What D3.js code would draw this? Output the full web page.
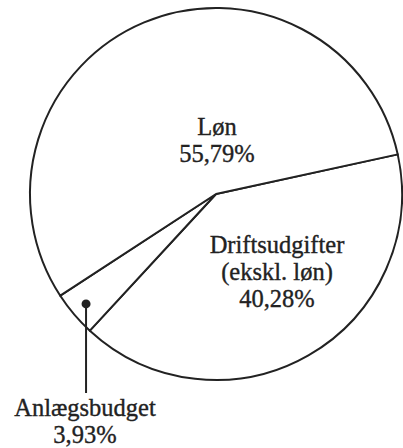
<!DOCTYPE html>
<html>
<head>
<meta charset="utf-8">
<script src="https://cdn.jsdelivr.net/npm/d3@7"></script>
<style>
  body { margin: 0; background: #fff; }
  text { font-family: "Liberation Serif", "Times New Roman", serif; fill: #222; stroke: #222; stroke-width: 0.35px; }
</style>
</head>
<body>
<div id="chart"></div>
<script>
var categories = ["Driftsudgifter", "Anlægsbudget", "Løn"];
var values = [40.28, 3.93, 55.79];
var labelLines = [["Driftsudgifter", "(ekskl. løn)", "40,28%"], ["Anlægsbudget", "3,93%"], ["Løn", "55,79%"]];

function init() {
    var w = 403;
    var h = 448;
    var cx = 216, cy = 194;
    var r = 186;
    var start = 77.7 * Math.PI / 180;

    var svg = d3.select("#chart")
        .append("svg")
        .attr("width", w)
        .attr("height", h);

    var g = svg.append("g")
        .attr("transform", "translate(" + cx + "," + cy + ")");

    var pie = d3.pie()
        .sort(null)
        .startAngle(start)
        .endAngle(start + 2 * Math.PI);

    var arcs = pie(values);

    var arc = d3.arc().innerRadius(0).outerRadius(r);

    g.selectAll("path")
        .data(arcs)
        .enter()
        .append("path")
        .attr("d", arc)
        .attr("fill", "#fff")
        .attr("stroke", "#222")
        .attr("stroke-width", 2)
        .attr("stroke-linejoin", "round");

    // dot + leader for the small slice
    var dotArc = d3.arc().innerRadius(r * 0.915).outerRadius(r * 0.915);
    var dot = dotArc.centroid(arcs[1]);
    g.append("line")
        .attr("x1", dot[0]).attr("y1", dot[1])
        .attr("x2", dot[0]).attr("y2", 393 - cy)
        .attr("stroke", "#222")
        .attr("stroke-width", 2);
    g.append("circle")
        .attr("cx", dot[0]).attr("cy", dot[1])
        .attr("r", 4.5)
        .attr("fill", "#222");

    // label positions (centre x, first baseline)
    var labelPos = [[277, 253], [85, 416], [217, 135]];
    var lineH = 27;

    labelLines.forEach(function(lines, i) {
        var t = svg.append("text")
            .attr("text-anchor", "middle")
            .attr("font-size", 24.5);
        lines.forEach(function(s, j) {
            t.append("tspan")
                .attr("x", labelPos[i][0])
                .attr("y", labelPos[i][1] + j * lineH)
                .text(s);
        });
    });
}

window.onload = init;
</script>
</body>
</html>
